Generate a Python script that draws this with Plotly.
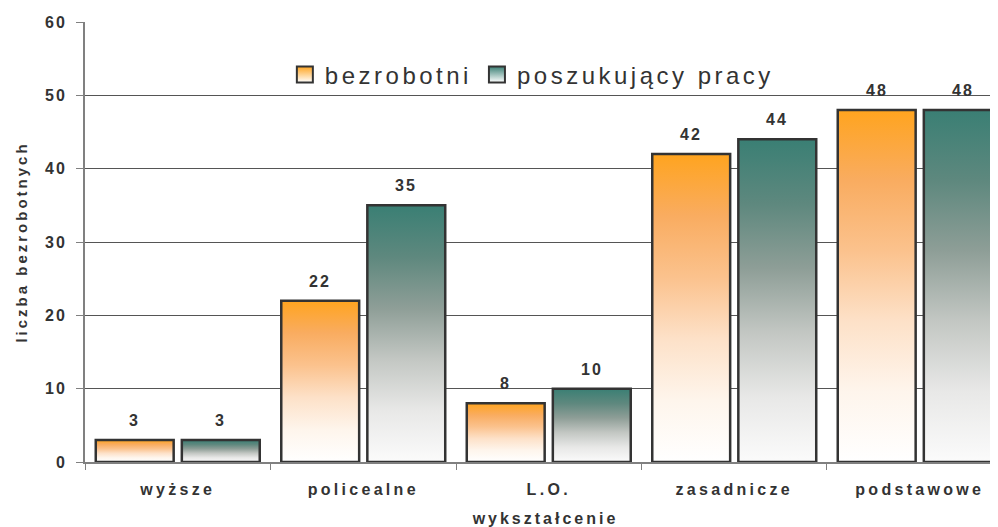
import numpy as np
import plotly.graph_objects as go

categories = ["wyższe", "policealne", "L.O.", "zasadnicze", "podstawowe"]
bezrobotni = [3, 22, 8, 42, 48]
poszukujacy = [3, 35, 10, 44, 48]
series_names = ["bezrobotni", "poszukujący pracy"]
y_ticks = [0, 10, 20, 30, 40, 50, 60]

ORANGE = "#FFA41F"
TEAL = "#3A7F74"
TXT = "#333333"
FONT = "Liberation Sans, Arial, sans-serif"

ORANGE_SCALE = [[0, "#FFFFFF"], [0.2, "#FEF5EC"], [0.4, "#FDE1C8"], [0.6, "#FBC28D"],
                [0.8, "#F9AC60"], [1, ORANGE]]
TEAL_SCALE = [[0, "#FBFBFB"], [0.2, "#E8E8E7"], [0.4, "#C3C7C3"], [0.6, "#8E9E97"],
              [0.8, "#5E887E"], [1, TEAL]]


def spaced(s, sp):
    return f'<span style="letter-spacing:{sp}px">{s}</span>'


fig = go.Figure()
pos = np.arange(len(categories))
offset = 0.232
half = 0.21

series = [(bezrobotni, ORANGE_SCALE, ORANGE), (poszukujacy, TEAL_SCALE, TEAL)]
for si, (vals, scale, col) in enumerate(series):
    sign = -1 if si == 0 else 1
    for i, v in enumerate(vals):
        xc = pos[i] + sign * offset
        fig.add_trace(go.Scatter(
            x=[xc - half, xc + half, xc + half, xc - half, xc - half],
            y=[0, 0, v, v, 0],
            mode="lines",
            fill="toself",
            fillgradient=dict(type="vertical", colorscale=scale, start=0, stop=v),
            line=dict(color="#333333", width=2.5),
            showlegend=False,
            hoverinfo="skip",
        ))
        fig.add_annotation(x=xc, y=v, text=f"<b>{spaced(v, 2)}</b>", showarrow=False,
                           yanchor="bottom", yshift=9,
                           font=dict(family=FONT, size=16, color=TXT))
    # legend-only entry with square gradient swatch
    fig.add_trace(go.Scatter(
        x=[None], y=[None], mode="markers",
        name=spaced(series_names[si], 3.5),
        marker=dict(symbol="square", size=16, color=col,
                    gradient=dict(type="vertical", color="#FFFFFF"),
                    line=dict(color="#333333", width=2)),
        showlegend=True, hoverinfo="skip",
    ))

fig.update_layout(
    width=998, height=527,
    margin=dict(l=77, r=0, t=14, b=73),
    paper_bgcolor="white", plot_bgcolor="white",
    font=dict(family=FONT, color=TXT),
    legend=dict(orientation="h", x=0.217, y=0.88, xanchor="left", yanchor="middle",
                font=dict(size=24, color=TXT, family=FONT), bgcolor="rgba(0,0,0,0)",
                itemwidth=30, tracegroupgap=0),
    showlegend=True,
)
fig.update_xaxes(
    range=[-0.5, 4.465], tickmode="array", tickvals=list(pos),
    ticktext=[f"<b>{spaced(c, 3.3)}</b>" for c in categories],
    ticks="", showgrid=False, zeroline=False, automargin=False,
    showline=True, linecolor="#808080", linewidth=2,
    tickfont=dict(size=16, color=TXT, family=FONT), ticklabelstandoff=12,
    minor=dict(tickmode="array", tickvals=list(np.arange(-0.5, 5.0, 1.0)), ticks="outside",
               ticklen=6, tickcolor="#808080", tickwidth=1, showgrid=False),
    title=dict(text=f"<b>{spaced('wykształcenie', 3)}</b>",
               font=dict(size=16, color=TXT, family=FONT), standoff=16),
)
fig.update_yaxes(
    range=[0, 60], tickmode="array", tickvals=y_ticks,
    ticktext=[f"<b>{spaced(str(t), 2)}</b>" for t in y_ticks],
    ticks="outside", ticklen=7, tickcolor="#808080", automargin=False,
    showgrid=True, gridcolor="#555555", gridwidth=1, zeroline=False,
    showline=True, linecolor="#808080", linewidth=2,
    tickfont=dict(size=16, color=TXT, family=FONT), ticklabelstandoff=6,
    title=dict(text=f"<b>{spaced('liczba bezrobotnych', 3)}</b>",
               font=dict(size=15, color=TXT, family=FONT), standoff=14),
)
fig.write_html("out.html")
